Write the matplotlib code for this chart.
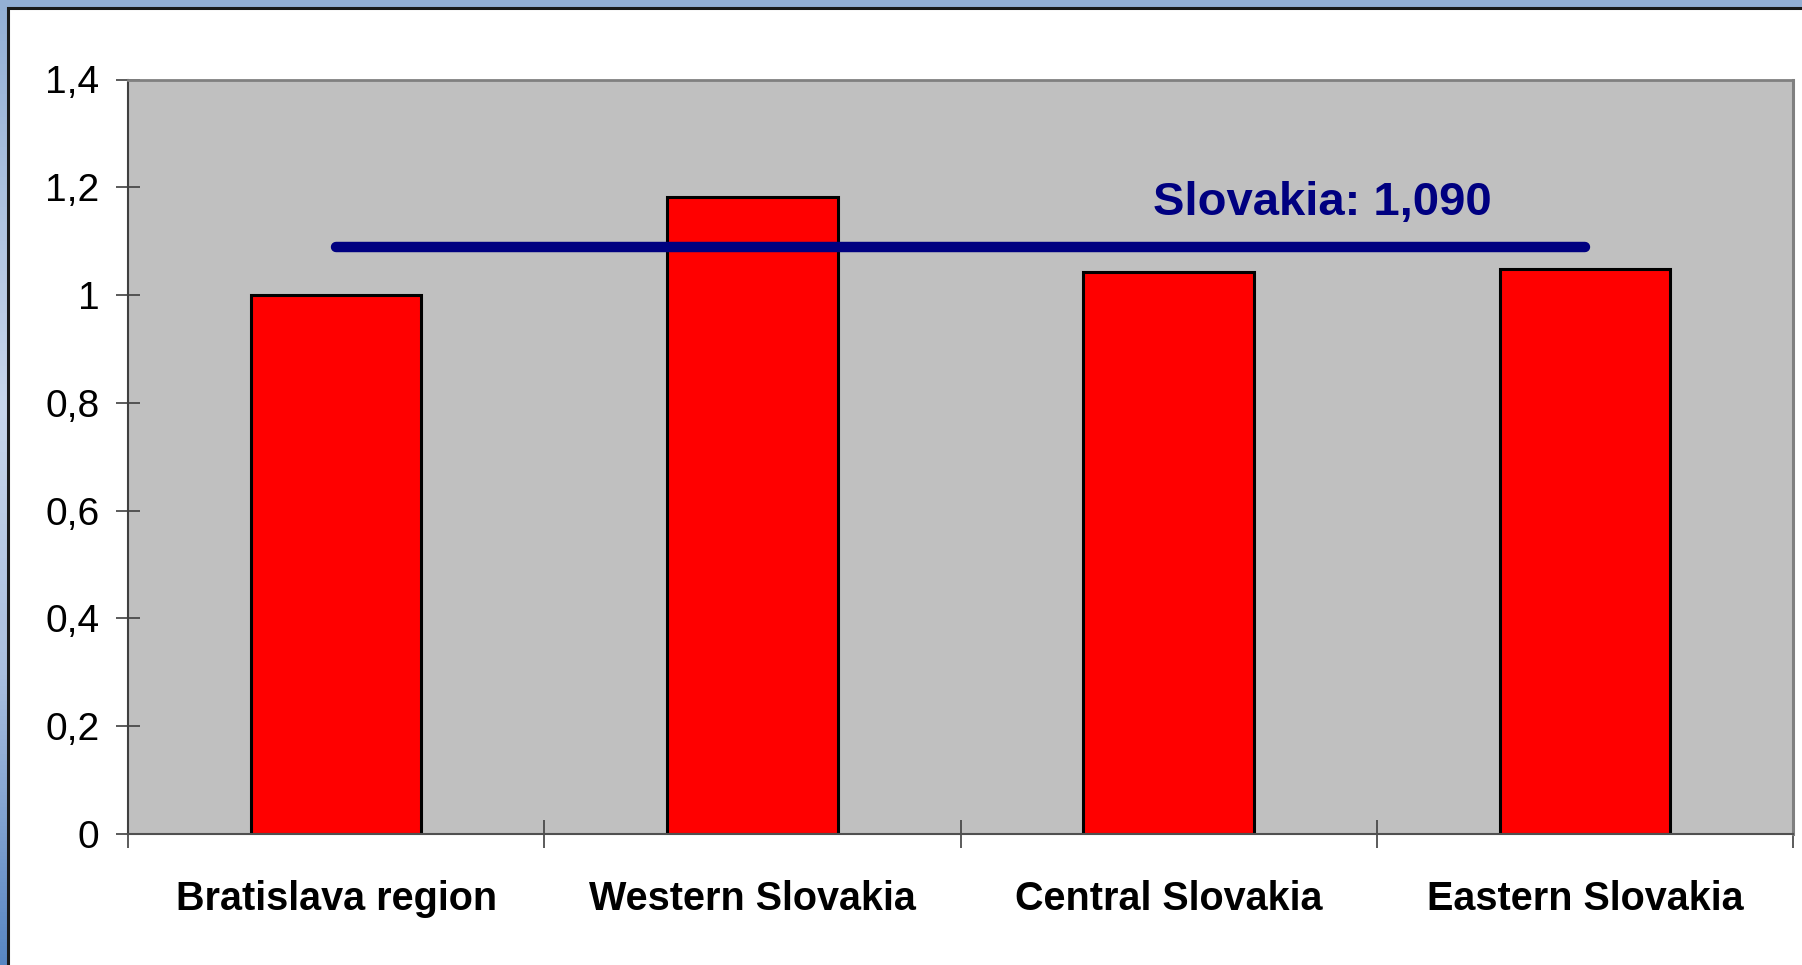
import numpy as np
import matplotlib
matplotlib.use('Agg')
import matplotlib.pyplot as plt
from matplotlib.patches import Rectangle
from matplotlib.colors import LinearSegmentedColormap
from matplotlib.ticker import FixedLocator, FuncFormatter

# data
regions = ['Bratislava region', 'Western Slovakia', 'Central Slovakia', 'Eastern Slovakia']
values = [1.000, 1.182, 1.043, 1.049]
slovakia_avg = 1.090
yticks = [0, 0.2, 0.4, 0.6, 0.8, 1.0, 1.2, 1.4]

W, H = 1802, 965
fig = plt.figure(figsize=(W / 100., H / 100.), dpi=100)

# slide background: blue vertical gradient behind a white panel
bg = fig.add_axes([0, 0, 1, 1], zorder=0)
cmap = LinearSegmentedColormap.from_list(
    'slide', [(0.0, '#93afd5'), (0.42, '#c8d6eb'), (0.7, '#aabfdf'), (1.0, '#5886c2')])
bg.imshow(np.linspace(0, 1, 256).reshape(-1, 1), aspect='auto', cmap=cmap,
          extent=[0, 1, 0, 1], origin='upper')
bg.add_patch(Rectangle((8. / W, -0.1), 1.2, 1.1 - 8. / H, facecolor='white',
                       edgecolor='#1a1a1a', linewidth=2.2))
bg.set_xlim(0, 1)
bg.set_ylim(0, 1)
bg.axis('off')

ax = fig.add_axes([128. / W, 1 - 834. / H, (1793. - 128.) / W, (834. - 79.5) / H], zorder=1)
ax.set_facecolor('#c0c0c0')

x = np.arange(len(regions))
ax.bar(x, values, width=0.41, color='#ff0000', edgecolor='black', linewidth=2.2, zorder=2)
ax.plot(x, [slovakia_avg] * len(x), color='#000080', linewidth=7.5,
        solid_capstyle='round', zorder=3)
ax.text(2.37, slovakia_avg + 0.059, 'Slovakia: %s' % ('%.3f' % slovakia_avg).replace('.', ','),
        color='#000080', fontsize=34, fontweight='bold', family='Liberation Sans',
        ha='center', va='baseline', zorder=4)

ax.set_xlim(-0.5, len(regions) - 0.5)
ax.set_ylim(0, 1.4)

def fmt(v, pos):
    s = ('%.1f' % v).rstrip('0').rstrip('.')
    return s.replace('.', ',')

ax.yaxis.set_major_locator(FixedLocator(yticks))
ax.yaxis.set_major_formatter(FuncFormatter(fmt))
ax.tick_params(axis='y', direction='inout', length=17, width=1.2, color='#404040',
               pad=12, labelsize=28)
for lab in ax.get_yticklabels():
    lab.set_family('Liberation Sans')

ax.set_xticks(x)
ax.set_xticklabels(regions)
ax.set_xticks(np.arange(len(regions) + 1) - 0.5, minor=True)
ax.tick_params(axis='x', which='major', length=0, pad=33, labelsize=28.5)
ax.tick_params(axis='x', which='minor', direction='inout', length=20, width=1.2,
               color='#404040')
for lab in ax.get_xticklabels():
    lab.set_family('Liberation Sans')
    lab.set_fontweight('bold')

ax.spines['left'].set_color('#404040')
ax.spines['left'].set_linewidth(1.5)
ax.spines['bottom'].set_color('#505050')
ax.spines['bottom'].set_linewidth(1.5)
ax.spines['top'].set_color('#808080')
ax.spines['top'].set_linewidth(2)
ax.spines['right'].set_color('#808080')
ax.spines['right'].set_linewidth(2.2)

fig.savefig('out.png', dpi=100)
